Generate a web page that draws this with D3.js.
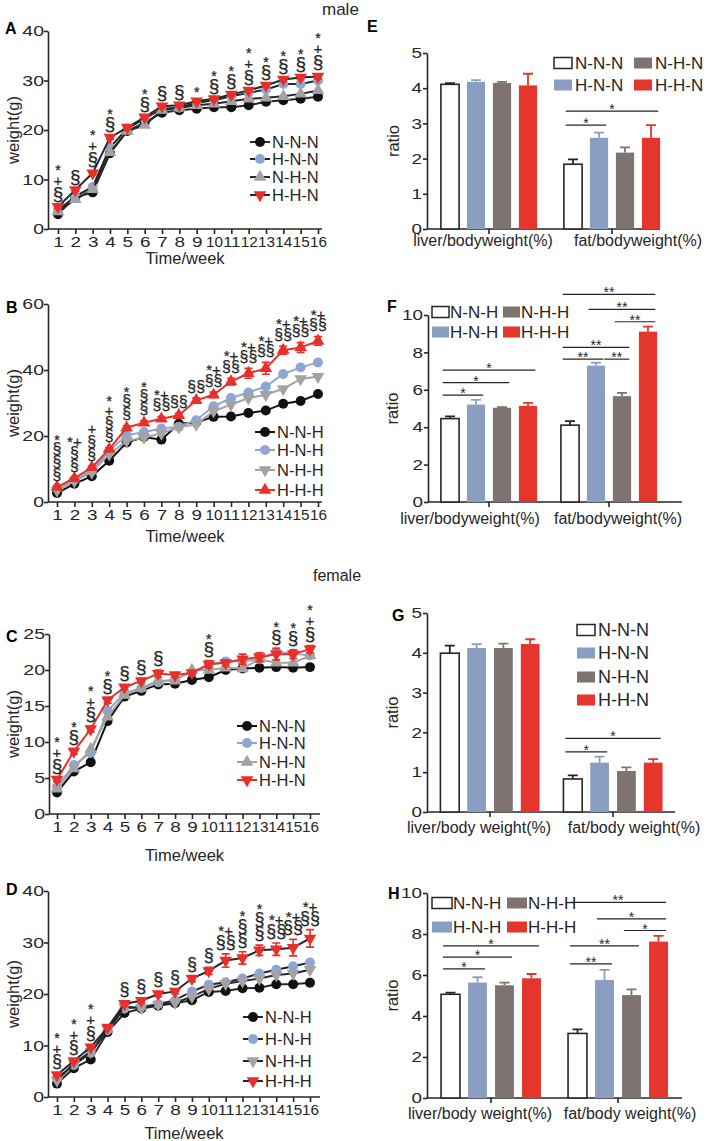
<!DOCTYPE html>
<html><head><meta charset="utf-8">
<script src="https://cdn.jsdelivr.net/npm/d3@7"></script>
<style>
body{margin:0;background:#fff;}
svg{display:block;font-family:"Liberation Sans",Arial,sans-serif;}
</style></head><body>
<svg id="c" width="709" height="1141"></svg>
<script>
// ---------------- DATA ----------------
const weeks = [1,2,3,4,5,6,7,8,9,10,11,12,13,14,15,16];
const namesN = ["N-N-N","H-N-N","N-H-N","H-H-N"];
const namesH = ["N-N-H","H-N-H","N-H-H","H-H-H"];

// A: male, N-N-N group
const A_NNN = [3.0,6.4,7.4,15.3,19.8,21.5,23.5,24.0,24.3,24.6,24.6,25.0,25.7,26.0,26.3,26.7];
const A_HNN = [3.8,6.6,8.5,16.5,20.3,22.3,24.3,24.5,25.5,26.0,26.8,27.5,28.2,29.3,29.3,30.0];
const A_NHN = [3.5,6.0,8.0,15.5,19.8,21.0,24.0,24.5,25.0,25.3,25.8,26.3,26.5,26.8,27.3,28.0];
const A_HHN = [4.5,7.9,11.3,18.5,20.5,22.6,24.8,25.0,25.8,26.3,27.2,28.0,29.0,30.2,30.6,30.8];
const A_HHN_err = [0.3,0.3,0.4,0.4,0.3,0.3,0.3,0.3,0.3,0.3,0.3,0.3,0.3,0.3,0.4,0.5];
const A_marks = [["§","+","*"],["§"],["§","+","*"],["§","*"],[],["§","*"],["§"],["§"],["*"],["§","*"],["§","*"],["§","+","*"],["§","*"],["§","*"],["§","*"],["§","+","*"]];

// B: male, N-N-H group
const B_NNH = [2.7,5.5,7.8,12.5,18.0,19.7,18.9,23.7,24.1,25.8,25.9,27.0,27.7,29.8,30.6,32.7];
const B_HNH = [4.3,6.8,9.5,15.5,20.2,21.2,22.3,22.8,24.8,29.0,31.5,33.2,35.0,38.8,40.8,42.3];
const B_NHH = [3.5,6.3,9.0,14.5,18.5,19.5,20.8,22.7,23.5,27.5,29.5,31.5,32.5,34.3,37.3,38.0];
const B_HHH = [4.5,7.2,10.5,16.0,22.5,24.0,25.2,26.3,30.8,32.5,36.5,39.0,40.5,46.0,46.8,48.8];
const B_HHH_err = [0.3,0.3,0.4,0.5,0.6,0.6,0.7,0.6,0.7,0.8,1.0,1.5,1.8,1.2,1.5,1.3];
const B_marks = [["§","§","§","*"],["§","§","*+"],["§","§","+"],["§","§","+","*"],["§","§","*"],["§","§","*"],["§§","*+"],["§§"],["§§"],["§§","*+"],["§§","*+"],["§§","*+"],["§§","*+"],["§§","*+"],["§§","*+"],["§§","*+"]];

// C: female, N-N-N group
const C_NNN = [3.0,5.9,7.2,12.9,16.3,17.1,18.0,18.1,18.6,19.0,20.0,20.2,20.3,20.4,20.3,20.4];
const C_HNN = [3.8,6.8,8.5,14.3,16.8,17.5,18.3,18.7,19.7,20.7,21.2,21.2,21.5,22.5,22.3,22.0];
const C_NHN = [3.5,6.3,9.0,13.5,16.5,17.5,18.5,18.5,20.0,20.0,20.3,20.2,21.5,21.0,21.0,22.0];
const C_HHN = [4.8,8.7,11.8,15.8,17.6,18.5,19.5,19.3,19.6,20.8,21.0,21.5,21.8,22.2,22.2,22.9];
const C_HHN_err = [0.3,0.4,0.4,0.4,0.3,0.3,0.5,0.3,0.3,0.5,0.4,0.7,0.6,0.8,0.6,0.5];
const C_marks = [["§","+","*"],["§","*"],["§","+","*"],["§","*"],["§"],["§"],["§"],[],[],["§","*"],[],[],[],["§","*"],["§","*"],["§","+","*"]];

// D: female, N-N-H group
const D_NNH = [2.6,5.6,7.3,12.6,16.3,17.2,17.7,18.2,18.8,20.4,20.6,21.1,21.2,21.9,21.9,22.2];
const D_HNH = [3.6,6.2,8.6,13.0,17.2,17.5,18.0,18.8,20.5,21.8,22.3,23.0,24.0,24.7,25.4,26.1];
const D_NHH = [3.2,6.5,8.8,13.2,17.5,17.3,18.0,18.3,19.5,21.0,22.0,22.5,23.0,23.7,24.0,24.7];
const D_HHH = [4.3,7.0,9.7,13.5,18.1,18.7,20.0,20.5,23.0,24.5,26.5,27.0,28.5,28.7,29.0,30.8];
const D_HHH_err = [0.3,0.3,0.4,0.4,0.5,0.5,0.5,0.5,0.6,0.7,1.3,1.2,1.0,1.2,1.6,1.7];
const D_marks = [["§","+","*"],["§","+","*"],["§","+","*"],[],["§"],["§"],["§"],["§"],["§"],["§"],["§§","*+"],["§","§","*"],["§","§","*"],["§§","*+"],["§§","*+"],["§§","*+"]];

const yTicksA = [0,10,20,30,40];
const yTicksB = [0,20,40,60];
const yTicksC = [0,5,10,15,20,25];
const yTicksD = [0,10,20,30,40];

// Bar charts: [liver, fat] per group
const E_liver = [4.11,4.18,4.15,4.08], E_liverErr = [0.03,0.05,0.03,0.33];
const E_fat   = [1.84,2.59,2.17,2.59], E_fatErr   = [0.14,0.15,0.15,0.36];
const E_sig = [{cat:1,a:0,b:1,v:2.95,t:"*"},{cat:1,a:0,b:3,v:3.35,t:"*"}];

const F_liver = [4.46,5.21,5.04,5.14], F_liverErr = [0.12,0.25,0.03,0.16];
const F_fat   = [4.11,7.29,5.66,9.11], F_fatErr   = [0.21,0.16,0.18,0.27];
const F_sig = [{cat:0,a:0,b:1,v:5.71,t:"*"},{cat:0,a:0,b:2,v:6.38,t:"*"},{cat:0,a:0,b:3,v:7.05,t:"*"},
  {cat:1,a:0,b:1,v:7.64,t:"**"},{cat:1,a:1,b:2,v:7.64,t:"**"},{cat:1,a:0,b:2,v:8.27,t:"**"},
  {cat:1,a:2,b:3,v:9.64,t:"**"},{cat:1,a:1,b:3,v:10.3,t:"**"},{cat:1,a:0,b:3,v:11.1,t:"**"}];

const G_liver = [3.99,4.12,4.12,4.22], G_liverErr = [0.19,0.10,0.11,0.12];
const G_fat   = [0.83,1.24,1.03,1.24], G_fatErr   = [0.09,0.15,0.09,0.09];
const G_sig = [{cat:1,a:0,b:1,v:1.51,t:"*"},{cat:1,a:0,b:3,v:1.85,t:"*"}];

const H_liver = [5.06,5.63,5.50,5.84], H_liverErr = [0.08,0.26,0.13,0.21];
const H_fat   = [3.15,5.76,5.02,7.63], H_fatErr   = [0.20,0.49,0.28,0.28];
const H_sig = [{cat:0,a:0,b:1,v:6.3,t:"*"},{cat:0,a:0,b:2,v:6.87,t:"*"},{cat:0,a:0,b:3,v:7.42,t:"*"},
  {cat:1,a:0,b:1,v:6.54,t:"**"},{cat:1,a:0,b:2,v:7.42,t:"**"},{cat:1,a:2,b:3,v:8.17,t:"*"},
  {cat:1,a:1,b:3,v:8.74,t:"*"},{cat:1,a:0,b:3,v:9.54,t:"**"}];

const yTicks5 = [0,1,2,3,4,5];
const yTicks10 = [0,2,4,6,8,10];
const catLabels1 = ["liver/bodyweight(%)","fat/bodyweight(%)"];
const catLabels2 = ["liver/body weight(%)","fat/body weight(%)"];

// ---------------- DRAWING ----------------
const svg = d3.select("#c");
const INK = "#262626";
const LC = {black:"#111111", blue:"#8ea7d1", grey:"#a4a2a2", red:"#e8302a"};
const BC = ["#ffffff","#8a9ec2","#7e7371","#e4362c"];

svg.append("text").attr("x",322).attr("y",15).attr("font-size",17).attr("fill",INK).text("male");
svg.append("text").attr("x",313).attr("y",581).attr("font-size",16).attr("fill",INK).text("female");

function styleAxis(a, fs){
  a.selectAll("path,line").attr("stroke",INK).attr("stroke-width",1.6);
  a.selectAll("text").attr("font-size",fs).attr("fill",INK).attr("font-family","Liberation Sans, Arial, sans-serif");
}
function widen(sel, f, maxLen){
  sel.each(function(){
    const n = this.getComputedTextLength();
    let L = n*f; if (maxLen && L>maxLen) L = maxLen;
    this.setAttribute("textLength", L);
    this.setAttribute("lengthAdjust","spacingAndGlyphs");
  });
}

function symPath(shape, size){
  const t = shape==="circle" ? d3.symbolCircle : d3.symbolTriangle;
  return d3.symbol(t, size)();
}
function symFs(s, fsS){
  if (s[0]==="§") return fsS;
  if (s==="*") return 14;
  return 15;
}
function symBase(s, fs){
  if (s[0]==="§") return 0.28*fs;
  if (s==="+") return 0.36*fs;
  if (s==="*") return 0.6*fs;
  return 0.48*fs;
}

function linePanel(o){
  const g = svg.append("g");
  const x = d3.scaleLinear().domain([1,16]).range([o.w1,o.w16]);
  const y = d3.scaleLinear().domain([0,o.yMax]).range([o.yBot,o.yTop]);
  const xa = g.append("g").attr("transform",`translate(0,${o.yBot})`)
    .call(d3.axisBottom(x).tickValues(weeks).tickSize(5).tickSizeOuter(0).tickPadding(3));
  xa.select(".domain").remove();
  styleAxis(xa, 14);
  widen(xa.selectAll("text"), 1.35, 17);
  g.append("line").attr("x1",o.xl).attr("x2",o.xr).attr("y1",o.yBot).attr("y2",o.yBot)
    .attr("stroke",INK).attr("stroke-width",1.6);
  const ya = g.append("g").attr("transform",`translate(${o.xl},0)`)
    .call(d3.axisLeft(y).tickValues(o.yTicks).tickSize(4).tickSizeOuter(0).tickPadding(0));
  styleAxis(ya, 15);
  widen(ya.selectAll("text"), 1.3);
  g.append("text").attr("x",(o.xl+o.xr)/2).attr("y",o.timeY).attr("text-anchor","middle")
    .attr("font-size",16.5).attr("fill",INK).text("Time/week");
  g.append("text").attr("transform",`translate(13,${(o.yTop+o.yBot)/2}) rotate(-90)`)
    .attr("text-anchor","middle").attr("dy","0.35em").attr("font-size",16.5).attr("fill",INK).text("weight(g)");
  g.append("text").attr("x",o.letter[1]).attr("y",o.letter[2]).attr("font-size",16)
    .attr("font-weight","bold").attr("fill","#000").text(o.letter[0]);

  const line = d3.line().x((d,k)=>x(weeks[k])).y(d=>y(d));
  o.series.forEach(s=>{
    const lc = o.colored ? s.color : INK;
    g.append("path").datum(s.vals).attr("d",line).attr("fill","none")
      .attr("stroke",lc).attr("stroke-width",2);
    if (s.err){
      s.vals.forEach((v,k)=>{
        const cx = x(weeks[k]);
        g.append("path").attr("d",`M${cx},${y(v-s.err[k])}V${y(v+s.err[k])}M${cx-4},${y(v+s.err[k])}H${cx+4}M${cx-4},${y(v-s.err[k])}H${cx+4}`)
          .attr("stroke",s.color).attr("stroke-width",1.6).attr("fill","none");
      });
    }
    g.selectAll(null).data(s.vals).join("path")
      .attr("transform",(d,k)=>`translate(${x(weeks[k])},${y(d)})${s.shape==="down"?" rotate(180)":""}`)
      .attr("d",symPath(s.shape, s.shape==="circle"?78:70)).attr("fill",s.color);
  });
  // annotations
  weeks.forEach((w,k)=>{
    const marks = o.marks[k];
    if (!marks.length) return;
    let top = d3.min(o.series, s=> y(s.vals[k] + (s.err? s.err[k]:0)));
    let c = top - o.ann0;
    marks.forEach((m,j)=>{
      const fs = symFs(m, o.annFs);
      g.append("text").attr("x",x(w)).attr("y",c + symBase(m,fs)).attr("text-anchor","middle")
        .attr("font-size",fs).attr("fill",INK).attr("stroke",INK).attr("stroke-width",0.25).text(m);
      c -= o.annStep;
    });
  });
  // legend
  o.series.forEach((s,i)=>{
    const ly = o.legend.rows[i], lx = o.legend.x;
    g.append("line").attr("x1",lx).attr("x2",lx+20).attr("y1",ly).attr("y2",ly)
      .attr("stroke",o.colored ? s.color : INK).attr("stroke-width",2);
    g.append("path").attr("transform",`translate(${lx+10},${ly})${s.shape==="down"?" rotate(180)":""}`)
      .attr("d",symPath(s.shape, s.shape==="circle"?78:70)).attr("fill",s.color);
    g.append("text").attr("x",lx+22).attr("y",ly).attr("dy","0.36em").attr("font-size",16.5)
      .attr("fill",INK).text(s.name);
  });
}

function mk(names, v1,v2,v3,v4, e4, shapes){
  const cols = [LC.black,LC.blue,LC.grey,LC.red];
  const vals = [v1,v2,v3,v4];
  return names.map((n,i)=>({name:n, vals:vals[i], color:cols[i], shape:shapes[i], err: i===3? e4 : null}));
}

linePanel({w1:58,w16:318,xl:48,xr:322,yTop:31,yBot:229,yMax:40,yTicks:yTicksA,colored:false,
  letter:["A",5,34],timeY:264,legend:{x:250,rows:[142,159,177,195]},annFs:19,ann0:11,annStep:14,
  marks:A_marks, series:mk(namesN,A_NNN,A_HNN,A_NHN,A_HHN,A_HHN_err,["circle","circle","up","down"])});
linePanel({w1:57,w16:318,xl:48,xr:322,yTop:304,yBot:502,yMax:60,yTicks:yTicksB,colored:true,
  letter:["B",6,313],timeY:542,legend:{x:255,rows:[432,450,470,490]},annFs:16,ann0:11,annStep:13,
  marks:B_marks, series:mk(namesH,B_NNH,B_HNH,B_NHH,B_HHH,B_HHH_err,["circle","circle","down","up"])});
linePanel({w1:57,w16:310,xl:49,xr:320,yTop:634,yBot:814,yMax:25,yTicks:yTicksC,colored:true,
  letter:["C",6,642],timeY:861,legend:{x:237,rows:[726,743,762,780]},annFs:19,ann0:11,annStep:14,
  marks:C_marks, series:mk(namesN,C_NNN,C_HNN,C_NHN,C_HHN,C_HHN_err,["circle","circle","up","down"])});
linePanel({w1:57,w16:310,xl:48,xr:320,yTop:891,yBot:1097,yMax:40,yTicks:yTicksD,colored:false,
  letter:["D",6,895],timeY:1139,legend:{x:243,rows:[1017,1039,1061,1081]},annFs:18,ann0:11,annStep:14,
  marks:D_marks, series:mk(namesH,D_NNH,D_HNH,D_NHH,D_HHH,D_HHH_err,["circle","circle","down","down"])});

function barPanel(o){
  const g = svg.append("g");
  const y = d3.scaleLinear().domain([0,o.yMax]).range([o.yBot,o.yTop]);
  const gx = d3.scalePoint().domain([0,1]).range([o.g1,o.g2]);
  const inner = d3.scaleBand().domain([0,1,2,3]).range([-2*o.step,2*o.step]).paddingInner(0.3).paddingOuter(0.15);
  const bw = inner.bandwidth();
  const cx = (c,i)=> gx(c) + inner(i) + bw/2;
  const data = [o.liver,o.fat], errs = [o.liverErr,o.fatErr];
  // axes
  const ya = g.append("g").attr("transform",`translate(${o.yx},0)`)
    .call(d3.axisLeft(y).tickValues(o.yTicks).tickFormat(d3.format("d")).tickSize(4).tickSizeOuter(0).tickPadding(1));
  styleAxis(ya,14.5);
  widen(ya.selectAll("text"), 1.3);
  g.append("line").attr("x1",o.yx).attr("x2",o.xEnd).attr("y1",o.yBot).attr("y2",o.yBot)
    .attr("stroke",INK).attr("stroke-width",1.6);
  [0,1].forEach(c=>{
    g.append("line").attr("x1",gx(c)).attr("x2",gx(c)).attr("y1",o.yBot).attr("y2",o.yBot+5)
      .attr("stroke",INK).attr("stroke-width",1.6);
    g.append("text").attr("x",o.labX[c]).attr("y",o.labY).attr("text-anchor","middle")
      .attr("font-size",16).attr("fill",INK).text(o.labels[c]);
  });
  g.append("text").attr("transform",`translate(${o.ratioX},${(o.yTop+o.yBot)/2}) rotate(-90)`)
    .attr("text-anchor","middle").attr("dy","0.35em").attr("font-size",16.5).attr("fill",INK).text("ratio");
  g.append("text").attr("x",o.letter[1]).attr("y",o.letter[2]).attr("font-size",16)
    .attr("font-weight","bold").attr("fill","#000").text(o.letter[0]);
  // bars
  [0,1].forEach(c=>{
    data[c].forEach((v,i)=>{
      const x0 = gx(c)+inner(i);
      const ec = i===0 ? INK : BC[i];
      const xc = x0 + bw/2, yt = y(v+errs[c][i]);
      g.append("path").attr("d",`M${xc},${y(v)}V${yt}M${xc-5},${yt}H${xc+5}`)
        .attr("stroke",ec).attr("stroke-width",1.8).attr("fill","none");
      g.append("rect").attr("x",x0).attr("y",y(v)).attr("width",bw).attr("height",o.yBot-y(v))
        .attr("fill",BC[i]).attr("stroke",i===0?INK:"none").attr("stroke-width",1.6);
    });
  });
  // significance
  o.sig.forEach((s,k)=>{
    const shared = o.sig.slice(0,k).some(p=>p.cat===s.cat && p.v===s.v && p.b===s.a);
    const x1 = shared ? cx(s.cat,s.a)+0.45*bw : cx(s.cat,s.a)-0.4*bw;
    const x2 = cx(s.cat,s.b)+0.4*bw;
    g.append("line").attr("x1",x1).attr("x2",x2).attr("y1",y(s.v)).attr("y2",y(s.v))
      .attr("stroke",INK).attr("stroke-width",1.2);
    g.append("text").attr("x",(x1+x2)/2).attr("y",y(s.v)+3).attr("text-anchor","middle")
      .attr("font-size",14).attr("fill",INK).text(s.t);
  });
  // legend
  o.names.forEach((n,i)=>{
    const col = o.legend.cols.length>1 ? Math.floor(i/2) : 0;
    const row = o.legend.cols.length>1 ? i%2 : i;
    const lx = o.legend.cols[col], ly = o.legend.rows[row];
    g.append("rect").attr("x",lx).attr("y",ly-5.5).attr("width",o.legend.rw).attr("height",11)
      .attr("fill",BC[i]).attr("stroke",i===0?INK:"none").attr("stroke-width",1.5);
    g.append("text").attr("x",lx+o.legend.rw+o.legend.gap).attr("y",ly).attr("dy","0.36em")
      .attr("font-size",o.legend.fs).attr("fill",INK).text(n);
  });
}

barPanel({yx:427,yTop:53,yBot:229,yMax:5,yTicks:yTicks5,xEnd:660,g1:489,g2:612,step:26,
  labels:catLabels1,labX:[483,638],labY:246,ratioX:393,letter:["E",367,32],names:namesN,
  liver:E_liver,liverErr:E_liverErr,fat:E_fat,fatErr:E_fatErr,sig:E_sig,
  legend:{cols:[554,634],rows:[63,85],rw:18,gap:3,fs:17}});
barPanel({yx:428,yTop:315,yBot:502,yMax:10,yTicks:yTicks10,xEnd:682,g1:489,g2:609,step:26,
  labels:catLabels1,labX:[470,618],labY:524,ratioX:392,letter:["F",387,312],names:namesH,
  liver:F_liver,liverErr:F_liverErr,fat:F_fat,fatErr:F_fatErr,sig:F_sig,
  legend:{cols:[432,503],rows:[312,332],rw:17,gap:1,fs:17}});
barPanel({yx:427,yTop:613,yBot:812,yMax:5,yTicks:yTicks5,xEnd:675,g1:490,g2:613,step:26.8,
  labels:catLabels2,labX:[479,634],labY:833,ratioX:392,letter:["G",392,621],names:namesN,
  liver:G_liver,liverErr:G_liverErr,fat:G_fat,fatErr:G_fatErr,sig:G_sig,
  legend:{cols:[577],rows:[630,653,677,700],rw:18,gap:3,fs:18}});
barPanel({yx:427,yTop:893,yBot:1098,yMax:10,yTicks:yTicks10,xEnd:682,g1:491,g2:618,step:27,
  labels:catLabels2,labX:[480,630],labY:1119,ratioX:392,letter:["H",388,899],names:namesH,
  liver:H_liver,liverErr:H_liverErr,fat:H_fat,fatErr:H_fatErr,sig:H_sig,
  legend:{cols:[432,507],rows:[903,927],rw:20,gap:1,fs:17}});
</script>
</body></html>
